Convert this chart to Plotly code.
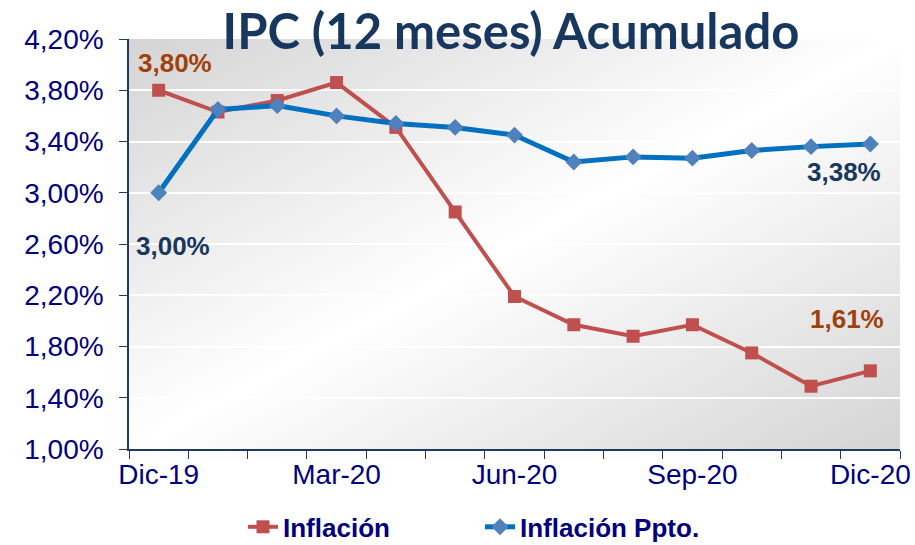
import base64
import plotly.graph_objects as go

months = ["Dic-19", "Ene-20", "Feb-20", "Mar-20", "Abr-20", "May-20", "Jun-20",
          "Jul-20", "Ago-20", "Sep-20", "Oct-20", "Nov-20", "Dic-20"]
tick_labels = ["Dic-19", "", "", "Mar-20", "", "", "Jun-20", "", "", "Sep-20", "", "", "Dic-20"]
inflacion = [3.80, 3.63, 3.72, 3.86, 3.51, 2.85, 2.19, 1.97, 1.88, 1.97, 1.75, 1.49, 1.61]
inflacion_ppto = [3.00, 3.65, 3.68, 3.60, 3.54, 3.51, 3.45, 3.24, 3.28, 3.27, 3.33, 3.36, 3.38]
y_ticks = [1.0, 1.4, 1.8, 2.2, 2.6, 3.0, 3.4, 3.8, 4.2]
y_tick_text = [("%.2f%%" % v).replace(".", ",") for v in y_ticks]

RED = "#C0504D"
BLUE_LINE = "#0070C0"
BLUE_MARK = "#4F81BD"
NAVY = "#000080"
TITLE_C = "#17375E"
BROWN = "#A0410D"
AXIS_C = "#203864"

fig = go.Figure()
fig.add_trace(go.Scatter(
    x=months, y=inflacion, name="Inflación", mode="lines+markers",
    line=dict(color=RED, width=4),
    marker=dict(symbol="square", size=13, color=RED),
))
fig.add_trace(go.Scatter(
    x=months, y=inflacion_ppto, name="Inflación Ppto.", mode="lines+markers",
    line=dict(color=BLUE_LINE, width=5),
    marker=dict(symbol="diamond", size=13, color=BLUE_MARK),
))

svg = ('<svg xmlns="http://www.w3.org/2000/svg" width="771" height="410" viewBox="0 0 771 410" '
       'preserveAspectRatio="none"><defs><linearGradient id="g" x1="0" y1="0" x2="1" y2="1">'
       '<stop offset="0" stop-color="#d4d4d4"/><stop offset="0.5" stop-color="#ffffff"/>'
       '<stop offset="1" stop-color="#d4d4d4"/></linearGradient></defs>'
       '<rect width="771" height="410" fill="url(#g)"/></svg>')
src = "data:image/svg+xml;base64," + base64.b64encode(svg.encode()).decode()
fig.add_layout_image(dict(source=src, xref="paper", yref="paper", x=0, y=1, sizex=1, sizey=1,
                          xanchor="left", yanchor="top", sizing="stretch", layer="below"))

ann_font = dict(family="Arial, Liberation Sans", size=26)
def lab(x, y, text, color, xs, ys):
    fig.add_annotation(x=x, y=y, text="<b>%s</b>" % text, showarrow=False,
                       font=dict(color=color, **ann_font), xshift=xs, yshift=ys)

lab(months[0], inflacion[0], "3,80%", BROWN, 16, 27)
lab(months[0], inflacion_ppto[0], "3,00%", TITLE_C, 14, -53)
lab(months[-1], inflacion_ppto[-1], "3,38%", TITLE_C, -26, -28)
lab(months[-1], inflacion[-1], "1,61%", BROWN, -23, 52)

fig.update_layout(
    width=915, height=545,
    margin=dict(l=129, r=15, t=39, b=96, autoexpand=False),
    paper_bgcolor="white", plot_bgcolor="rgba(0,0,0,0)",
    title=dict(text="<b>IPC (12 meses) Acumulado</b>", x=511 / 915, xanchor="center",
               xref="container",
               y=1 - 32 / 545, yanchor="middle",
               font=dict(family="Lato", size=49, color=TITLE_C)),
    showlegend=True,
    legend=dict(orientation="h", x=(243 - 129) / 771, xanchor="left", y=-0.19, yanchor="middle",
                font=dict(family="Arial, Liberation Sans", size=26, color=NAVY, weight="bold"),
                bgcolor="rgba(0,0,0,0)", entrywidth=192, entrywidthmode="pixels"),
    xaxis=dict(type="category", tickmode="array", tickvals=months, ticktext=tick_labels,
               tickson="boundaries", ticks="outside", ticklen=8, tickcolor=AXIS_C,
               showline=True, linecolor=AXIS_C, linewidth=1.5, showgrid=False,
               range=[-0.5, 12.5], tickangle=0, automargin=False,
               tickfont=dict(family="Arial, Liberation Sans", size=28, color=NAVY)),
    yaxis=dict(range=[1.0, 4.2], tickmode="array", tickvals=y_ticks, ticktext=y_tick_text,
               ticks="outside", ticklen=8, tickcolor=AXIS_C,
               showline=True, linecolor=AXIS_C, linewidth=1.5,
               showgrid=True, gridcolor="white", gridwidth=1.5, zeroline=False,
               ticklabelstandoff=10, automargin=False,
               tickfont=dict(family="Arial, Liberation Sans", size=28, color=NAVY)),
)

fig.write_html("out.html", config={"displayModeBar": False},
               post_script="document.body.style.margin='0';")
